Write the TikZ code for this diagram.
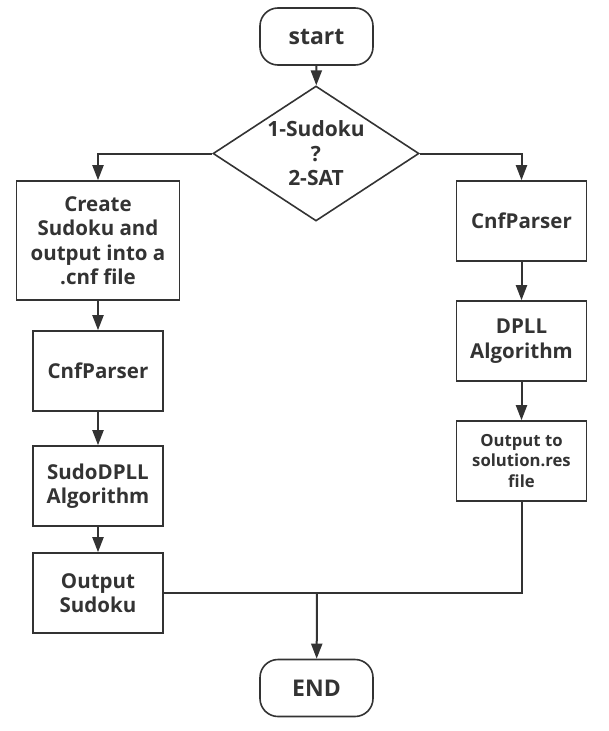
\documentclass[tikz,border=0pt]{standalone}
\usepackage{fontspec}
\setmainfont{Open Sans}
\usetikzlibrary{shapes.geometric,arrows.meta}
\definecolor{ink}{HTML}{333333}
\begin{document}
\begin{tikzpicture}[x=1pt,y=-1pt,
  every node/.style={font=\bfseries\fontsize{20.5}{24.5}\selectfont, text=ink, align=center},
  box/.style={draw=ink, line width=1.6pt, rectangle, inner sep=0pt},
  stdbox/.style={box, minimum width=130pt, minimum height=80pt},
  term/.style={box, rounded corners=18pt, minimum width=113pt, minimum height=57pt, font=\bfseries\fontsize{23}{27}\selectfont},
  dec/.style={draw=ink, line width=1.6pt, diamond, aspect=1.526, inner sep=0pt, font=\bfseries\fontsize{21}{24.5}\selectfont},
  conn/.style={draw=ink, line width=2pt},
  arr/.style={conn, -{Triangle[length=15pt,width=11pt]}}
]
\useasboundingbox (0,0) rectangle (608,731);
\node[term] (start) at (316.5,36.5) {start};
\node[dec, minimum width=206pt, minimum height=135pt] (choice) at (316,153.5) {1-Sudoku\\?\\2-SAT};
\node[box, minimum width=163pt, minimum height=119pt] (create) at (98,240.5) {Create\\Sudoku and\\output into a\\.cnf file};
\node[stdbox] (lparse) at (98,371) {CnfParser};
\node[stdbox] (sdpll) at (98,486) {SudoDPLL\\Algorithm};
\node[stdbox] (outs) at (98,593) {Output\\Sudoku};
\node[stdbox] (rparse) at (521.5,221) {CnfParser};
\node[stdbox] (dpll) at (521.5,341) {DPLL\\Algorithm};
\node[stdbox, font=\bfseries\fontsize{16.7}{20.5}\selectfont] (outr) at (521.5,461) {Output to\\solution.res\\file};
\node[term] (end) at (316.5,688) {END};
\coordinate (join) at (317,593);
\draw[arr] (start) -- (choice);
\draw[arr] (choice.west) -| (create.north);
\draw[arr] (choice.east) -| (rparse.north);
\draw[arr] (create) -- (lparse);
\draw[arr] (lparse) -- (sdpll);
\draw[arr] (sdpll) -- (outs);
\draw[arr] (rparse) -- (dpll);
\draw[arr] (dpll) -- (outr);
\draw[conn] (outs.east) -- (join);
\draw[conn] (outr.south) |- (join);
\draw[arr] (join) -- (end);
\end{tikzpicture}
\end{document}
